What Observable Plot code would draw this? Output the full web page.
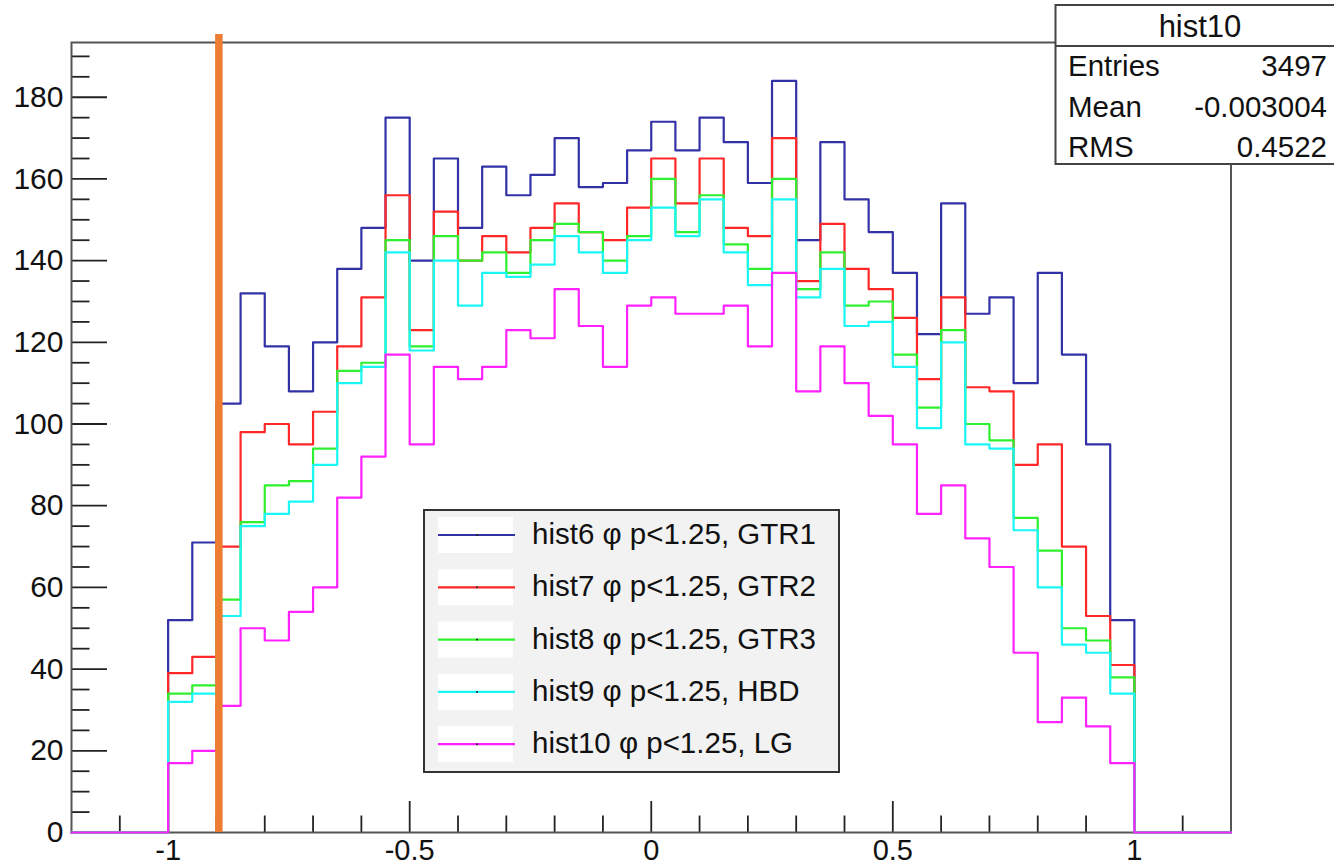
<!DOCTYPE html>
<html>
<head>
<meta charset="utf-8">
<script src="https://cdn.jsdelivr.net/npm/d3@7"></script>
<script src="https://cdn.jsdelivr.net/npm/@observablehq/plot@0.6"></script>
<style>
  html, body { margin: 0; padding: 0; background: #fff; overflow: hidden; }
  #chart { position: relative; width: 1334px; height: 865px; }
</style>
</head>
<body>
<div id="chart"></div>
<script>
// Lower edges of the 40 filled bins (width 0.05) between -1 and 1
const binLow = d3.range(40).map(i => +(-1 + i * 0.05).toFixed(2));
const binWidth = 0.05;
const histRange = [-1.2, 1.2];

// Bin contents, one array per histogram
const hist6 = [52, 71, 105, 132, 119, 108, 120, 138, 148, 175, 140, 165, 148, 163, 156, 161, 170, 158, 159, 167,
               174, 167, 175, 169, 159, 184, 145, 169, 155, 147, 137, 122, 154, 127, 131, 110, 137, 117, 95, 52];
const hist7 = [39, 43, 70, 98, 100, 95, 103, 119, 131, 156, 123, 152, 140, 146, 142, 148, 154, 147, 145, 153,
               165, 154, 165, 148, 146, 170, 135, 149, 138, 133, 126, 111, 131, 109, 108, 90, 95, 70, 53, 41];
const hist8 = [34, 36, 57, 76, 85, 86, 94, 113, 115, 145, 119, 146, 140, 142, 137, 145, 149, 147, 140, 146,
               160, 147, 156, 144, 138, 160, 133, 142, 129, 130, 117, 104, 123, 100, 96, 77, 69, 50, 47, 38];
const hist9 = [32, 34, 53, 75, 78, 81, 90, 110, 114, 142, 118, 140, 129, 137, 136, 139, 146, 142, 137, 145,
               153, 146, 155, 142, 134, 155, 131, 138, 124, 125, 114, 99, 120, 95, 94, 74, 60, 46, 44, 34];
const hist10 = [17, 20, 31, 50, 47, 54, 60, 82, 92, 117, 95, 114, 111, 114, 123, 121, 133, 124, 114, 129,
                131, 127, 127, 129, 119, 137, 108, 119, 110, 102, 95, 78, 85, 72, 65, 44, 27, 33, 26, 17];

const seriesValues = [hist6, hist7, hist8, hist9, hist10];
const seriesNames = [
  "hist6 \u03c6 p<1.25, GTR1",
  "hist7 \u03c6 p<1.25, GTR2",
  "hist8 \u03c6 p<1.25, GTR3",
  "hist9 \u03c6 p<1.25, HBD",
  "hist10 \u03c6 p<1.25, LG"
];
const seriesColors = ["#3232a6", "#ff2828", "#2ef02e", "#1af6f6", "#ff22ff"];

// Axis ticks and labels
const xMajorTicks = [-1, -0.5, 0, 0.5, 1];
const xTickLabels = ["-1", "-0.5", "0", "0.5", "1"];
const xMinorTicks = [-1.1, -0.9, -0.8, -0.7, -0.6, -0.4, -0.3, -0.2, -0.1, 0.1, 0.2, 0.3, 0.4, 0.6, 0.7, 0.8, 0.9, 1.1];
const yMajorTicks = [0, 20, 40, 60, 80, 100, 120, 140, 160, 180];
const yTickLabels = ["0", "20", "40", "60", "80", "100", "120", "140", "160", "180"];
const yMinorTicks = [5, 10, 15, 25, 30, 35, 45, 50, 55, 65, 70, 75, 85, 90, 95, 105, 110, 115, 125, 130, 135,
                     145, 150, 155, 165, 170, 175, 185, 190];
const yMax = 193.4;

// Vertical cut marker
const cutX = -0.895;

// Statistics box of the last histogram drawn
const statsTitle = "hist10";
const statsRows = [["Entries", "3497"], ["Mean", "-0.003004"], ["RMS", "0.4522"]];

// Step outline of a histogram: zero outside the filled bins
function outline(values, name) {
  const pts = [{x: histRange[0], y: 0, name}];
  values.forEach((v, i) => pts.push({x: binLow[i], y: v, name}));
  pts.push({x: binLow[binLow.length - 1] + binWidth, y: 0, name});
  pts.push({x: histRange[1], y: 0, name});
  return pts;
}

const W = 1334, H = 865;
const mTop = 42, mRight = 103.5, mBottom = 33, mLeft = 71;
const innerW = W - mLeft - mRight, innerH = H - mTop - mBottom;
const font = "'Liberation Sans', Arial, Helvetica, sans-serif";
const tickColor = "#222";

const histMarks = seriesValues.map((vals, k) =>
  Plot.line(outline(vals, seriesNames[k]), {
    x: "x", y: "y", curve: "step-after",
    stroke: seriesColors[k], strokeWidth: 2.2
  })
);

const chart = Plot.plot({
  width: W, height: H,
  marginTop: mTop, marginRight: mRight, marginBottom: mBottom, marginLeft: mLeft,
  x: {domain: histRange, label: null},
  y: {domain: [0, yMax], label: null},
  style: {fontFamily: font, background: "white", color: "#111", overflow: "visible"},
  marks: [
    // inward ticks on the x axis
    Plot.ruleX(xMajorTicks, {stroke: tickColor, strokeWidth: 1.8, insetTop: innerH - 31}),
    Plot.ruleX(xMinorTicks, {stroke: tickColor, strokeWidth: 1.8, insetTop: innerH - 16.5}),
    // inward ticks on the y axis
    Plot.ruleY(yMajorTicks, {stroke: tickColor, strokeWidth: 1.8, insetRight: innerW - 36}),
    Plot.ruleY(yMinorTicks, {stroke: tickColor, strokeWidth: 1.8, insetRight: innerW - 18.5}),
    Plot.frame({stroke: "#555", strokeWidth: 2}),
    Plot.axisX({ticks: xMajorTicks, tickSize: 0, tickPadding: 7, fontSize: 29,
                tickFormat: d => xTickLabels[xMajorTicks.indexOf(d)]}),
    Plot.axisY({ticks: yMajorTicks, tickSize: 0, tickPadding: 8, fontSize: 30,
                tickFormat: d => yTickLabels[yMajorTicks.indexOf(d)]}),
    ...histMarks,
    Plot.ruleX([cutX], {stroke: "#ED7D31", strokeWidth: 7.5, insetTop: -8})
  ]
});

document.getElementById("chart").appendChild(chart);

// Legend box inside the frame
const svg = d3.select(chart);
const leg = svg.append("g").attr("font-family", font).attr("text-anchor", "start");
const legBox = {x0: 424, y0: 510, x1: 839, y1: 772};
leg.append("rect")
  .attr("x", legBox.x0).attr("y", legBox.y0)
  .attr("width", legBox.x1 - legBox.x0).attr("height", legBox.y1 - legBox.y0)
  .attr("fill", "#f2f2f2").attr("stroke", "#333").attr("stroke-width", 2);
seriesNames.forEach((name, k) => {
  const cy = 535 + k * 52.3;
  leg.append("rect").attr("x", 438).attr("y", cy - 18).attr("width", 75).attr("height", 36).attr("fill", "#fff");
  leg.append("line").attr("x1", 438).attr("x2", 515).attr("y1", cy).attr("y2", cy)
    .attr("stroke", seriesColors[k]).attr("stroke-width", 2.2);
  leg.append("circle").attr("cx", 477).attr("cy", cy).attr("r", 1).attr("fill", "#222");
  leg.append("text").attr("x", 532).attr("y", cy + 9).attr("text-anchor", "start")
    .attr("font-size", 29.5).attr("fill", "#111").text(name);
});

// Statistics box in the top right corner
const st = svg.append("g").attr("font-family", font).attr("fill", "#111");
st.append("rect").attr("x", 1055.5).attr("y", 5).attr("width", 300).attr("height", 159)
  .attr("fill", "#fff").attr("stroke", "#444").attr("stroke-width", 2);
st.append("line").attr("x1", 1055.5).attr("x2", 1340).attr("y1", 46).attr("y2", 46)
  .attr("stroke", "#444").attr("stroke-width", 2);
st.append("text").attr("x", 1200).attr("y", 37).attr("text-anchor", "middle")
  .attr("font-size", 31).text(statsTitle);
statsRows.forEach(([label, value], k) => {
  const base = 76 + k * 40.5;
  st.append("text").attr("x", 1068).attr("y", base).attr("text-anchor", "start")
    .attr("font-size", 29.5).text(label);
  st.append("text").attr("x", 1327).attr("y", base).attr("text-anchor", "end")
    .attr("font-size", 29.5).text(value);
});
</script>
</body>
</html>
